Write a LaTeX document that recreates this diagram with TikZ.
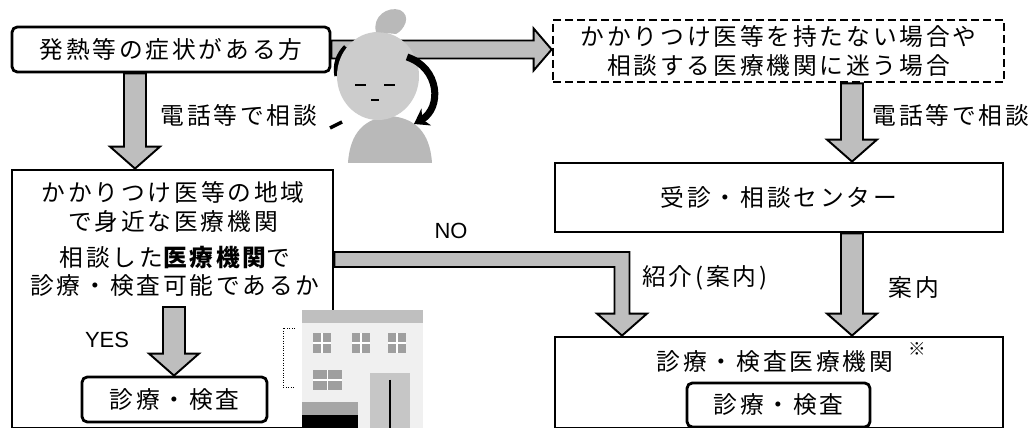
\documentclass[tikz,border=0pt]{standalone}
\usepackage{fontspec}
\setmainfont{Noto Sans CJK JP}[LetterSpace=12]
\newfontfamily\latinfont{Liberation Sans}
\usepackage{tikz}
\usetikzlibrary{calc, arrows.meta}
\tikzset{>=latex}
\definecolor{arrowgray}{RGB}{190, 190, 190}
\tikzset{
  flowbox/.style = {draw = black, line width = 1.6pt, inner sep = 0pt},
  roundbox/.style = {flowbox, rounded corners = 3pt},
  dashbox/.style = {flowbox, dash pattern = on 4.5pt off 2.3pt},
  fatarrow/.style = {draw = black, line width = 1.1pt, fill = arrowgray, line join = miter},
  jtext/.style = {font = \fontsize{13.5}{17}\selectfont, align = center, inner sep = 0pt},
  etext/.style = {font = \latinfont\fontsize{12.5}{14}\selectfont, inner sep = 0pt}
}
\newcommand{\fatdown}[2]{%
  \draw[fatarrow] ($(#1)+(-11,0)$) -- ($(#1|-#2)+(-11,-22)$) -- ($(#1|-#2)+(-25,-22)$) -- (#1|-#2)
    -- ($(#1|-#2)+(25,-22)$) -- ($(#1|-#2)+(11,-22)$) -- ($(#1)+(11,0)$) -- cycle;}
\newcommand{\fatright}[2]{%
  \draw[fatarrow] ($(#1)+(0,-9)$) -- ($(#1-|#2)+(-18,-9)$) -- ($(#1-|#2)+(-18,-21)$) -- (#1-|#2)
    -- ($(#1-|#2)+(-18,21)$) -- ($(#1-|#2)+(-18,9)$) -- ($(#1)+(0,9)$) -- cycle;}

\begin{document}
\begin{tikzpicture}[x = 0.02cm, y = -0.02cm]
\useasboundingbox (0,0) rectangle (1034,428);

\node[roundbox, jtext, minimum width = 6.36cm, minimum height = 0.9cm] (sym) at (171, 49.5) {発熱等の症状がある方};
\node[dashbox, jtext, minimum width = 9.02cm, minimum height = 1.24cm] (help) at (778.5, 51) {かかりつけ医等を持たない場合や\\相談する医療機関に迷う場合};
\node[flowbox, jtext, minimum width = 8.96cm, minimum height = 1.38cm] (hotline) at (779, 197.5) {受診・相談センター};
\node[flowbox, minimum width = 6.42cm, minimum height = 5.16cm] (local) at (172.5, 299) {};
\node[jtext] (localname) at (173, 207) {かかりつけ医等の地域\\で身近な医療機関};
\node[jtext, font = \fontsize{13.5}{16}\selectfont] (ask) at (175, 271) {相談した{\bfseries 医療機関}で\\診療・検査可能であるか};
\node[roundbox, jtext, minimum width = 3.7cm, minimum height = 0.9cm] (exam1) at (174.5, 399.5) {診療・検査};
\node[flowbox, minimum width = 8.96cm, minimum height = 1.82cm] (clinic) at (779, 382.5) {};
\node[jtext] (clinicname) at (775, 362) {診療・検査医療機関};
\node[jtext, font = \fontsize{10}{12}\selectfont] (note) at (917, 349) {※};
\node[roundbox, jtext, minimum width = 3.66cm, minimum height = 0.88cm] (exam2) at (778.5, 405) {診療・検査};

\node[jtext] (tel1) at (239, 115) {電話等で相談};
\node[jtext] (tel2) at (951, 115) {電話等で相談};
\node[jtext] (refer) at (705, 278) {紹介(案内)};
\node[jtext] (guide) at (914, 288) {案内};
\node[etext] (no) at (451, 231) {NO};
\node[etext] (yes) at (107, 340) {YES};

\coordinate (d1) at ($(sym.south)+(-36,0)$);
\coordinate (d2) at ($(help.south)+(73.5,0)$);
\coordinate (d3) at ($(hotline.south)+(73,0)$);
\coordinate (d4) at (174, 307);
\fatdown{d1}{local.north}
\fatdown{d2}{hotline.north}
\fatdown{d3}{clinic.north}
\fatdown{d4}{exam1.north}
\fatright{sym.east}{help.west}

\coordinate (nostart) at ($(local.east)+(0,-39.5)$);
\coordinate (notip) at ($(clinic.north)+(-157,0)$);
\draw[fatarrow] ($(nostart)+(0,-7.5)$) -- ($(notip|-nostart)+(7.5,-7.5)$) -- ($(notip)+(7.5,-22)$)
  -- ($(notip)+(25,-22)$) -- (notip) -- ($(notip)+(-25,-22)$) -- ($(notip)+(-7.5,-22)$)
  -- ($(notip|-nostart)+(-7.5,7.5)$) -- ($(nostart)+(0,7.5)$) -- cycle;

\draw[line width = 3pt] (346, 47) .. controls (338, 55) and (335, 65) .. (337, 76);
\fill[gray!55] (348, 163) .. controls (350, 132) and (365, 118) .. (390, 116) .. controls (415, 118) and (430, 132) .. (432, 163) -- cycle;
\fill[gray!40] (378, 76) ellipse [x radius = 41, y radius = 44];
\fill[gray!55] (376, 32) .. controls (372, 16) and (388, 6) .. (400, 10) .. controls (412, 16) and (404, 30) .. (396, 34) -- cycle;
\draw[line width = 1.6pt] (355, 85) -- (366, 85) (384, 85) -- (395, 85);
\draw[line width = 1pt] (371, 100) -- (379, 100);
\draw[line width = 4pt, -{Stealth[length = 8pt, width = 11pt]}] (407, 57) .. controls (440, 68) and (442, 108) .. (414, 124);
\draw[line width = 2pt] (330, 128) -- (342, 122);

\fill[gray!12] (302, 310) rectangle (423, 428);
\fill[gray!50] (302, 310) rectangle (423, 323);
\foreach \wx in {313, 352, 388} {
  \fill[gray!75] (\wx, 333) rectangle ++(18, 20);
  \draw[white, line width = 0.6pt] (\wx + 9, 333) -- ++(0, 20) (\wx, 343) -- ++(18, 0);
}
\fill[gray!75] (313, 370) rectangle (342, 390);
\draw[white, line width = 0.6pt] (327.5, 370) -- (327.5, 390) (313, 380) -- (342, 380);
\fill[gray!45] (370, 373) rectangle (410, 428);
\draw[line width = 1pt] (390, 380) -- (390, 428);
\fill[gray!70] (302, 402) rectangle (358, 415);
\fill[black] (302, 415) rectangle (358, 428);
\draw[densely dotted] (295, 328) -- (283, 328) -- (283, 387) -- (295, 387);
\end{tikzpicture}
\end{document}
